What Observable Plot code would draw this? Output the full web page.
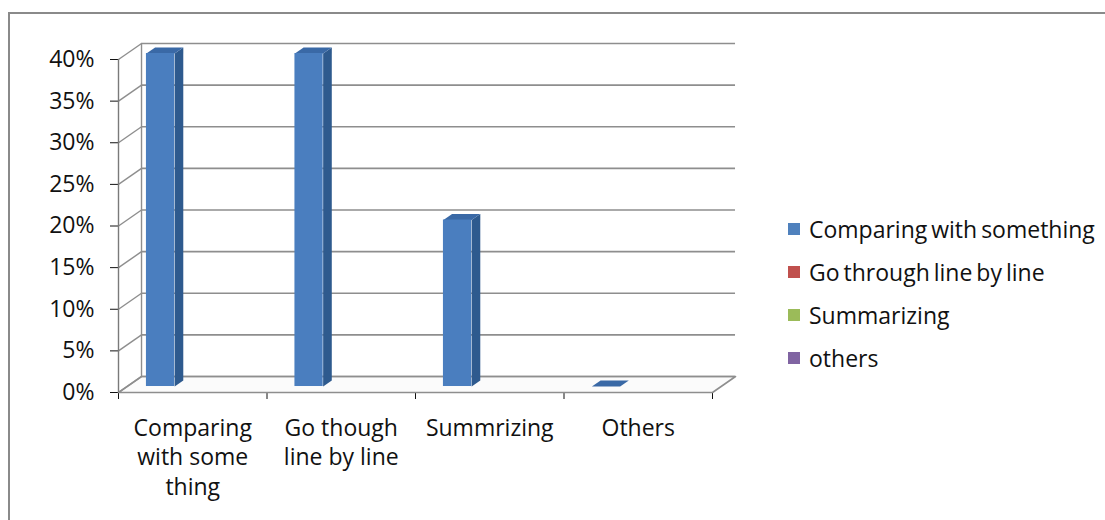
<!DOCTYPE html>
<html>
<head>
<meta charset="utf-8">
<script src="https://cdn.jsdelivr.net/npm/d3@7"></script>
<script src="https://cdn.jsdelivr.net/npm/@observablehq/plot@0.6"></script>
<style>
  html, body { margin: 0; padding: 0; background: #fff; }
  #wrap { position: relative; width: 1105px; height: 520px; overflow: hidden; font-family: "Open Sans", sans-serif; }
  #chart { position: absolute; left: 0; top: 0; }
  #border { position: absolute; left: 8px; top: 12px; width: 1200px; height: 600px;
            border-top: 2px solid #8a8a8a; border-left: 2px solid #8a8a8a; pointer-events: none; }
  #legend { position: absolute; left: 788px; top: 0; }
  .item { position: absolute; left: 0; height: 30px; line-height: 30px; display: flex; align-items: center;
          white-space: nowrap; font-size: 23px; color: #111; word-spacing: -2px; }
  .sw { width: 12px; height: 12px; margin-right: 9px; flex: none; }
</style>
</head>
<body>
<div id="wrap">
  <div id="chart"></div>
  <div id="legend"></div>
  <div id="border"></div>
</div>
<script>
// Categories along the x axis (line breaks as set in the axis labels)
const categories = ["Comparing\nwith some\nthing", "Go though\nline by line", "Summrizing", "Others"];
// Share of respondents per category, in percent
const shares = [40, 40, 20, 0];
// Percent ticks on the value axis
const yTicks = [0, 5, 10, 15, 20, 25, 30, 35, 40];
// Legend entries and their colours
const legendSeries = ["Comparing with something", "Go through line by line", "Summarizing", "others"];
const legendColors = ["#4f81bd", "#c0504d", "#9bbb59", "#8064a2"];

// 3D depth of the plot box, expressed in scale units (category widths, percentage points)
const DEPTH_X = 0.155;
const DEPTH_Y = 1.92;
// Columns sit part-way into the box and occupy a fraction of it
const BAR_FRONT = 0.375;   // depth fraction of the front face
const BAR_THICK = 0.375;   // depth fraction spanned by the column
const BAR_OFFSET = 0.13;   // left edge of a column inside its category slot
const BAR_WIDTH = 0.19;    // column width in category units

const bars = categories.map((c, i) => {
  const x1 = i + BAR_OFFSET + BAR_FRONT * DEPTH_X;
  const y0 = BAR_FRONT * DEPTH_Y;
  return {i, label: c, value: shares[i], x1, x2: x1 + BAR_WIDTH, y0, y1: shares[i] + y0};
});
const bx = BAR_THICK * DEPTH_X, by = BAR_THICK * DEPTH_Y;

// top and side faces of each column as closed polygons
const topFaces = bars.flatMap(b => [
  {key: b.i, x: b.x1, y: b.y1},
  {key: b.i, x: b.x2, y: b.y1},
  {key: b.i, x: b.x2 + bx, y: b.y1 + by},
  {key: b.i, x: b.x1 + bx, y: b.y1 + by}
]);
const sideFaces = bars.flatMap(b => [
  {key: b.i, x: b.x2, y: b.y0},
  {key: b.i, x: b.x2, y: b.y1},
  {key: b.i, x: b.x2 + bx, y: b.y1 + by},
  {key: b.i, x: b.x2 + bx, y: b.y0 + by}
]);
const n = categories.length;
const floor = [
  {x: 0, y: 0}, {x: n, y: 0}, {x: n + DEPTH_X, y: DEPTH_Y}, {x: DEPTH_X, y: DEPTH_Y}
];

const grid = "#8e8e8e";

const chart = Plot.plot({
  width: 1105,
  height: 520,
  marginLeft: 118,
  marginRight: 393,
  marginTop: 59,
  marginBottom: 128,
  style: {fontFamily: "Open Sans", fontSize: "23px", color: "#111", background: "transparent", overflow: "visible"},
  x: {type: "linear", domain: [0, n], ticks: d3.range(n + 1), tickFormat: () => "", tickSize: 7, label: null},
  y: {domain: [0, 40], ticks: yTicks, tickFormat: d => d + "%", tickSize: 8, tickPadding: 16, label: null},
  marks: [
    // floor of the box
    Plot.line(floor, {x: "x", y: "y", curve: "linear-closed", fill: "#fbfbfb", stroke: grid, strokeWidth: 1.6}),
    // back wall gridlines
    Plot.ruleY(yTicks, {y: d => d + DEPTH_Y, x1: DEPTH_X, x2: n + DEPTH_X, stroke: grid, strokeWidth: 1.6}),
    // side wall gridlines
    Plot.link(yTicks, {x1: 0, y1: d => d, x2: DEPTH_X, y2: d => d + DEPTH_Y, stroke: grid, strokeWidth: 1.4}),
    // back wall left edge and front value axis
    Plot.ruleX([DEPTH_X], {y1: DEPTH_Y, y2: 40 + DEPTH_Y, stroke: grid, strokeWidth: 1.4}),
    Plot.ruleX([0], {y1: 0, y2: 40, stroke: "#7a7a7a", strokeWidth: 1.4}),
    // columns: side, top, front
    Plot.line(sideFaces, {x: "x", y: "y", z: "key", curve: "linear-closed", fill: "#2e5a8e", stroke: "none"}),
    Plot.line(topFaces, {x: "x", y: "y", z: "key", curve: "linear-closed", fill: "#3a69a6", stroke: "none"}),
    Plot.rectY(bars, {x1: "x1", x2: "x2", y1: "y0", y2: "y1", fill: "#4a7ebf"}),
    // category labels
    Plot.text(bars, {x: d => d.i + 0.5, y: 0, text: "label", lineAnchor: "top", dy: 22, lineHeight: 1.29,
                     fontSize: 23, fill: "#111"})
  ]
});
document.getElementById("chart").appendChild(chart);

// legend on the right
const legend = document.getElementById("legend");
const rowCenters = [229, 272, 315, 358];
legendSeries.forEach((name, k) => {
  const item = document.createElement("div");
  item.className = "item";
  item.style.top = (rowCenters[k] - 15) + "px";
  const sw = document.createElement("span");
  sw.className = "sw";
  sw.style.background = legendColors[k];
  item.appendChild(sw);
  item.appendChild(document.createTextNode(name));
  legend.appendChild(item);
});
</script>
</body>
</html>
